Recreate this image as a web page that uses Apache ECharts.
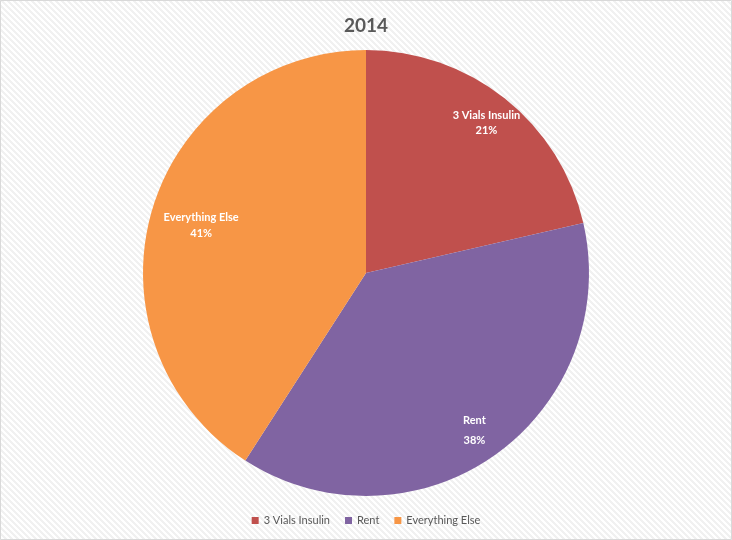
<!DOCTYPE html>
<html>
<head>
<meta charset="utf-8">
<script src="https://cdn.jsdelivr.net/npm/echarts@6/dist/echarts.min.js"></script>
<style>
html,body{margin:0;padding:0;background:#fff;}
#c{width:732px;height:540px;}
</style>
</head>
<body>
<div id="c"></div>
<script>
var titleText = '2014';
var categories = ['3 Vials Insulin', 'Rent', 'Everything Else'];
var values = [21.4, 37.7, 40.9];
var colors = ['#C0504D', '#8064A2', '#F79646'];

// background diagonal hatch tile
var tile = document.createElement('canvas');
tile.width = 6; tile.height = 6;
var tctx = tile.getContext('2d');
var img = tctx.createImageData(6, 6);
for (var y = 0; y < 6; y++) {
  for (var x = 0; x < 6; x++) {
    var on = ((x - y + 60) % 6) < 3;
    var v = on ? 241 : 255;
    var i = (y * 6 + x) * 4;
    img.data[i] = v; img.data[i+1] = v; img.data[i+2] = v; img.data[i+3] = 255;
  }
}
tctx.putImageData(img, 0, 0);

var labelStyles = [
  { offset: [3, -3], lineHeight: 15 },
  { offset: [0, 3], lineHeight: 20 },
  { offset: [16, 6], lineHeight: 16 }
];

var chart = echarts.init(document.getElementById('c'), null, { renderer: 'canvas' });
var font = 'Lato, "Open Sans", sans-serif';

var pieData = categories.map(function (n, i) {
  return { name: n, value: values[i], itemStyle: { color: colors[i] } };
});
var labelData = categories.map(function (n, i) {
  return {
    name: n, value: values[i],
    label: { offset: labelStyles[i].offset, lineHeight: labelStyles[i].lineHeight }
  };
});

chart.setOption({
  backgroundColor: { image: tile, repeat: 'repeat' },
  animation: false,
  title: {
    text: titleText,
    left: 'center',
    top: 11,
    textStyle: { fontFamily: font, fontSize: 19, fontWeight: 'bold', color: '#595959' }
  },
  legend: {
    data: categories,
    bottom: 9,
    left: 'center',
    itemWidth: 7,
    itemHeight: 7,
    itemGap: 15,
    icon: 'rect',
    textStyle: { fontFamily: font, fontSize: 11, color: '#595959' }
  },
  graphic: [{
    type: 'rect',
    shape: { x: 0.5, y: 0.5, width: 731, height: 539 },
    style: { fill: 'none', stroke: '#d9d9d9', lineWidth: 1 },
    silent: true
  }],
  series: [{
    type: 'pie',
    center: [366, 273],
    radius: [0, 223],
    startAngle: 90,
    clockwise: true,
    data: pieData,
    label: { show: false },
    labelLine: { show: false },
    itemStyle: { borderWidth: 0 },
    emphasis: { disabled: true }
  }, {
    type: 'pie',
    center: [366, 273],
    radius: [148, 223],
    startAngle: 90,
    clockwise: true,
    silent: true,
    percentPrecision: 0,
    data: labelData,
    itemStyle: { color: 'rgba(0,0,0,0)', borderWidth: 0 },
    label: {
      show: true,
      position: 'inside',
      formatter: '{b}\n{d}%',
      color: '#ffffff',
      fontFamily: font,
      fontSize: 11,
      fontWeight: 'bold',
      align: 'center'
    },
    labelLine: { show: false },
    emphasis: { disabled: true }
  }]
});
</script>
</body>
</html>
